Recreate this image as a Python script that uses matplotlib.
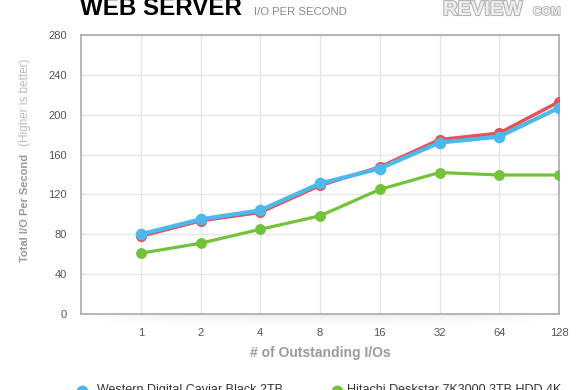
import matplotlib
matplotlib.use('Agg')
import matplotlib.pyplot as plt
import matplotlib.patheffects as pe
import numpy as np

plt.rcParams['font.family'] = ['Liberation Sans', 'DejaVu Sans']

# ---- data ----
categories = ['1', '2', '4', '8', '16', '32', '64', '128']
wd_black = [80, 95, 104, 131, 146, 172, 178, 207]
red_drive = [78, 93.5, 102, 129, 147.5, 175, 181.5, 213]
hitachi = [61, 71, 85, 98.5, 125, 142, 139.5, 139.5]
y_ticks = [0, 40, 80, 120, 160, 200, 240, 280]
legend_labels = ['Western Digital Caviar Black 2TB', 'Hitachi Deskstar 7K3000 3TB HDD 4K']

W, H = 580, 390
fig = plt.figure(figsize=(W / 100, H / 100), dpi=100)
fig.patch.set_facecolor('white')

# faint shadow under the plot area
sh = fig.add_axes([90 / W, (H - 328) / H, 460 / W, 14 / H], zorder=0)
gx = np.linspace(-1, 1, 200)
gy = np.linspace(0, 1, 20)
GX, GY = np.meshgrid(gx, gy)
alpha = (1 - GY) ** 1.5 * np.clip(1 - np.abs(GX) ** 4, 0, 1) * 0.10
img = np.zeros((20, 200, 4))
img[..., :3] = 0.3
img[..., 3] = alpha
sh.imshow(img, aspect='auto', extent=(0, 1, 0, 1), origin='upper')
sh.axis('off')

ax = fig.add_axes([81 / W, 76 / H, 478 / W, 279 / H], zorder=1)

xs = list(range(1, len(categories) + 1))

blue = '#4BB9EC'
red = '#E8505A'
green = '#72C23A'

ax.plot(xs, hitachi, color=green, lw=2.3, marker='o', ms=6.8, zorder=3, solid_capstyle='round')
ax.plot(xs, red_drive, color=red, lw=2.5, marker='o', ms=7.0, zorder=4, solid_capstyle='round')
ax.plot(xs, wd_black, color=blue, lw=3.0, marker='o', ms=7.4, zorder=5, solid_capstyle='round')

ax.set_xlim(0, len(categories))
ax.set_ylim(0, 280)
ax.set_xticks(xs)
ax.set_xticklabels(categories)
ax.set_yticks(y_ticks)
ax.set_yticklabels([str(v) for v in y_ticks])
ax.grid(True, color='#E6E6E6', lw=1.0, zorder=0)
ax.set_axisbelow(True)
for s in ax.spines.values():
    s.set_color('#ABABAB')
    s.set_linewidth(1.2)
ax.tick_params(axis='both', length=0, labelsize=8, colors='#555555')
ax.tick_params(axis='x', pad=10)
ax.tick_params(axis='y', pad=10)

ax.set_xlabel('# of Outstanding I/Os', fontsize=10, fontweight='bold', color='#9A9A9A', labelpad=6)

# y label (two parts)
fig.text(25 / W, (H - 208) / H, 'Total I/O Per Second', rotation=90, fontsize=8, fontweight='bold',
         color='#9A9A9A', ha='center', va='center')
fig.text(25 / W, (H - 102) / H, '(Higher is better)', rotation=90, fontsize=8.5,
         color='#BBBBBB', ha='center', va='center')

# title
fig.text(80 / W, (H - 15) / H, 'WEB SERVER', fontsize=17.4, fontweight='bold', color='#000000',
         va='baseline', ha='left')
fig.text(254 / W, (H - 15) / H, 'I/O PER SECOND', fontsize=8.2, color='#8A8A8A',
         va='baseline', ha='left')

# logo
t = fig.text(443 / W, (H - 15) / H, 'REVIEW', fontsize=14.5, fontweight='bold', color='#EEEEEE',
             va='baseline', ha='left')
t.set_path_effects([pe.withStroke(linewidth=1.6, foreground='#B5B5B5')])
t2 = fig.text(533 / W, (H - 15) / H, 'COM', fontsize=8.5, fontweight='bold', color='#EEEEEE',
              va='baseline', ha='left')
t2.set_path_effects([pe.withStroke(linewidth=1.2, foreground='#B5B5B5')])

# legend (clipped at bottom of figure, as in the reference)
fig.lines.append(plt.Line2D([82 / W], [(H - 391) / H], transform=fig.transFigure, marker='o',
                            ms=7.5, color=blue, lw=0))
fig.text(97 / W, (H - 384) / H, legend_labels[0], fontsize=9, color='#333333', va='top', ha='left')
fig.lines.append(plt.Line2D([337 / W], [(H - 391) / H], transform=fig.transFigure, marker='o',
                            ms=7.5, color=green, lw=0))
fig.text(347 / W, (H - 384) / H, legend_labels[1], fontsize=9, color='#333333', va='top', ha='left')

fig.savefig('out.png', dpi=100, facecolor='white')
